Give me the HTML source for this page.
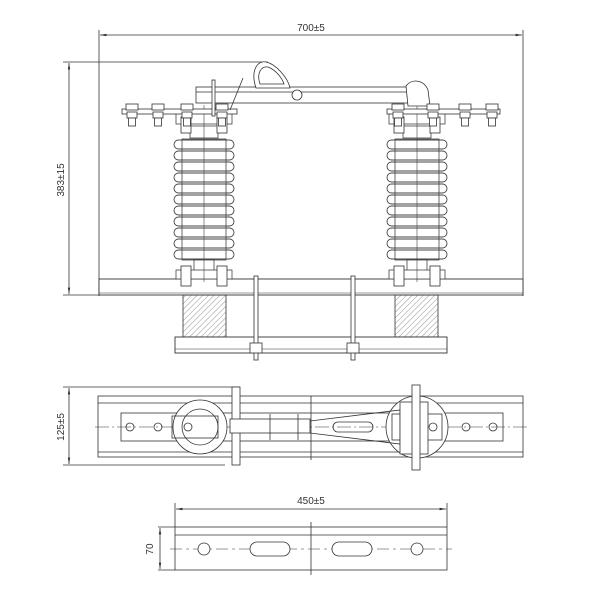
<!DOCTYPE html>
<html><head><style>body{margin:0;background:#fff}svg{display:block}</style></head><body>
<svg width="600" height="600" viewBox="0 0 600 600" xmlns="http://www.w3.org/2000/svg" font-family="Liberation Sans, sans-serif">
<defs>
<pattern id="h" width="4" height="4" patternUnits="userSpaceOnUse" patternTransform="rotate(45)"><line x1="0" y1="0" x2="0" y2="4" stroke="#666" stroke-width="0.7"/></pattern>
<marker id="a" markerWidth="8" markerHeight="6" refX="8" refY="3" orient="auto"><path d="M0,1.5 L8,3 L0,4.5z" fill="#333"/></marker>
<marker id="b" markerWidth="8" markerHeight="6" refX="0" refY="3" orient="auto"><path d="M8,1.5 L0,3 L8,4.5z" fill="#333"/></marker>
<g id="ins">
<rect x="-12" y="120" width="24" height="18" fill="#fff"/>
<g fill="#fff" stroke="#444" stroke-width="0.9">
<rect x="-30" y="140" width="60" height="9" rx="4.5"/><rect x="-30" y="151" width="60" height="9" rx="4.5"/>
<rect x="-30" y="162" width="60" height="9" rx="4.5"/><rect x="-30" y="173" width="60" height="9" rx="4.5"/>
<rect x="-30" y="184" width="60" height="9" rx="4.5"/><rect x="-30" y="195" width="60" height="9" rx="4.5"/>
<rect x="-30" y="206" width="60" height="9" rx="4.5"/><rect x="-30" y="217" width="60" height="9" rx="4.5"/>
<rect x="-30" y="228" width="60" height="9" rx="4.5"/><rect x="-30" y="239" width="60" height="9" rx="4.5"/>
<rect x="-30" y="250" width="60" height="9" rx="4.5"/>
</g>
<rect x="-22" y="139" width="44" height="121" fill="none" stroke="#444" stroke-width="0.8"/>
<rect x="-14" y="126" width="28" height="12" fill="#fff" stroke="#444" stroke-width="0.8"/>
<rect x="-10" y="260" width="20" height="14" fill="#fff" stroke="#444" stroke-width="0.8"/>
<rect x="-28" y="113" width="56" height="11" fill="#fff" stroke="#444" stroke-width="0.8"/>
<rect x="-28" y="270" width="56" height="9" fill="#fff" stroke="#444" stroke-width="0.8"/>
<g fill="#fff" stroke="#333" stroke-width="0.8">
<rect x="-23" y="266" width="10" height="20"/><rect x="13" y="266" width="10" height="20"/>
<rect x="-23" y="117" width="10" height="16"/><rect x="13" y="117" width="10" height="16"/>
</g>
<line x1="0" y1="105" x2="0" y2="282" stroke="#444" stroke-width="0.6"/>
</g>
<g id="bolt" fill="#fff" stroke="#333" stroke-width="0.8"><rect x="-6" y="0" width="12" height="6"/><rect x="-5" y="8" width="10" height="6"/><rect x="-3.5" y="14" width="7" height="8"/></g>
</defs>
<g stroke="#333" stroke-width="0.8" fill="none">
<line x1="100" y1="35" x2="522" y2="35" marker-start="url(#b)" marker-end="url(#a)"/>
<line x1="99" y1="30" x2="99" y2="296"/><line x1="523" y1="30" x2="523" y2="296"/>
<line x1="63" y1="62" x2="268" y2="62"/><line x1="63" y1="295" x2="100" y2="295"/>
<line x1="69" y1="63" x2="69" y2="294" marker-start="url(#b)" marker-end="url(#a)"/>
</g>
<text x="311" y="31" font-size="10" text-anchor="middle" fill="#333">700±5</text>
<text transform="translate(64,180) rotate(-90)" font-size="10" text-anchor="middle" fill="#333">383±15</text>
<rect x="99" y="279" width="424" height="16" fill="#fff" stroke="#333" stroke-width="0.9"/>
<line x1="99" y1="293" x2="523" y2="293" stroke="#333" stroke-width="0.6"/>
<rect x="183" y="295" width="43" height="42" fill="url(#h)" stroke="#333" stroke-width="0.8"/>
<rect x="395" y="295" width="43" height="42" fill="url(#h)" stroke="#333" stroke-width="0.8"/>
<rect x="175" y="337" width="272" height="16" fill="#fff" stroke="#333" stroke-width="0.9"/>
<line x1="175" y1="349" x2="447" y2="349" stroke="#333" stroke-width="0.6"/>
<g stroke="#333" stroke-width="0.8" fill="#fff">
<rect x="254" y="276" width="4" height="84"/><rect x="351" y="276" width="4" height="84"/>
<rect x="250" y="343" width="12" height="10"/><rect x="347" y="343" width="12" height="10"/>
</g>
<use href="#ins" x="204" y="0"/><use href="#ins" x="417" y="0"/>
<g fill="#fff" stroke="#333" stroke-width="0.8">
<rect x="122" y="109" width="115" height="5"/><rect x="387" y="109" width="113" height="5"/>
<rect x="196" y="87" width="227" height="16"/>
<line x1="196" y1="92" x2="423" y2="92"/>
<path d="M256 88 C250 70 258 60 266 62 C276 64 288 78 290 88 Z"/>
<path d="M260 84 C256 72 262 66 268 67 C276 70 282 78 284 84 Z"/>
<circle cx="297" cy="95" r="5"/><circle cx="414" cy="95" r="7"/><circle cx="414" cy="95" r="3"/>
<path d="M406 86 C412 78 424 80 428 90 L430 106 L408 106 Z"/>
<rect x="212" y="80" width="3" height="36"/>
<line x1="230" y1="110" x2="243" y2="78"/>
</g>
<use href="#bolt" x="132" y="104"/><use href="#bolt" x="158" y="104"/>
<use href="#bolt" x="187" y="104"/><use href="#bolt" x="222" y="104"/>
<use href="#bolt" x="398" y="104"/><use href="#bolt" x="433" y="104"/>
<use href="#bolt" x="465" y="104"/><use href="#bolt" x="492" y="104"/>
<g stroke="#333" stroke-width="0.8" fill="none">
<rect x="98" y="396" width="425" height="61"/>
<line x1="98" y1="403" x2="523" y2="403"/><line x1="98" y1="452" x2="523" y2="452"/>
<line x1="63" y1="387" x2="240" y2="387"/><line x1="63" y1="465" x2="225" y2="465"/>
<line x1="69" y1="388" x2="69" y2="464" marker-start="url(#b)" marker-end="url(#a)"/>
<rect x="121" y="413" width="382" height="28" fill="#fff"/>
<line x1="95" y1="427" x2="528" y2="427" stroke-dasharray="14 3 2 3" stroke-width="0.6"/>
<line x1="311" y1="396" x2="311" y2="460"/>
<circle cx="200" cy="427" r="27" fill="#fff"/><circle cx="200" cy="427" r="18"/>
<rect x="172" y="416" width="46" height="22"/>
<circle cx="417" cy="427" r="31" fill="#fff"/>
<rect x="392" y="414" width="50" height="26"/>
<circle cx="130" cy="427" r="4"/><circle cx="158" cy="427" r="4"/><circle cx="188" cy="427" r="4"/>
<circle cx="433" cy="427" r="4"/><circle cx="466" cy="427" r="4"/><circle cx="493" cy="427" r="4"/>
<rect x="232" y="387" width="8" height="78" fill="#fff"/>
<rect x="230" y="419" width="80" height="14" fill="#fff"/>
<path d="M310 421 L400 410 L400 444 L310 433"/>
<rect x="333" y="422" width="40" height="10" rx="5"/>
<rect x="400" y="402" width="28" height="52" fill="#fff"/>
<rect x="412" y="385" width="8" height="85" fill="#fff"/>
<line x1="270" y1="414" x2="270" y2="440"/><line x1="298" y1="414" x2="298" y2="440"/>
</g>
<text transform="translate(64,427) rotate(-90)" font-size="10" text-anchor="middle" fill="#333">125±5</text>
<g stroke="#333" stroke-width="0.8" fill="none">
<line x1="176" y1="509" x2="446" y2="509" marker-start="url(#b)" marker-end="url(#a)"/>
<line x1="175" y1="503" x2="175" y2="527"/><line x1="447" y1="503" x2="447" y2="527"/>
<rect x="175" y="527" width="272" height="43"/>
<line x1="175" y1="535" x2="447" y2="535"/>
<line x1="158" y1="527" x2="175" y2="527"/><line x1="158" y1="570" x2="175" y2="570"/>
<line x1="160" y1="528" x2="160" y2="569" marker-start="url(#b)" marker-end="url(#a)"/>
<line x1="170" y1="549" x2="452" y2="549" stroke-dasharray="12 4 3 4" stroke-width="0.6"/>
<line x1="311" y1="522" x2="311" y2="575"/>
<circle cx="204" cy="549" r="6" fill="#fff"/><circle cx="417" cy="549" r="6" fill="#fff"/>
<rect x="250" y="542" width="40" height="14" rx="7" fill="#fff"/>
<rect x="332" y="542" width="40" height="14" rx="7" fill="#fff"/>
</g>
<text x="311" y="504" font-size="10" text-anchor="middle" fill="#333">450±5</text>
<text transform="translate(153,549) rotate(-90)" font-size="10" text-anchor="middle" fill="#333">70</text>
</svg>
</body></html>
